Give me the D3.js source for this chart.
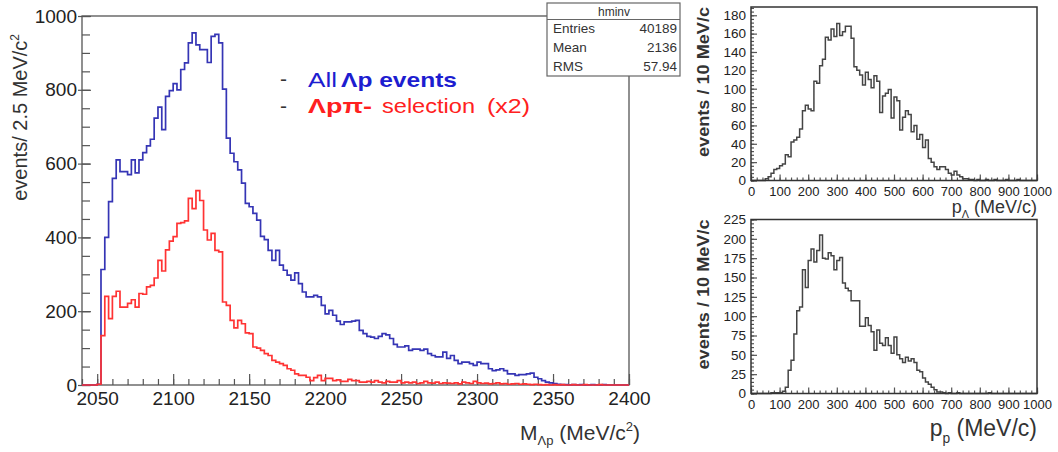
<!DOCTYPE html>
<html>
<head>
<meta charset="utf-8">
<title>hminv</title>
<script src="https://d3js.org/d3.v7.min.js"></script>
<style>
  body { margin: 0; background: #fff; }
  svg { display: block; font-family: "Liberation Sans", Arial, Helvetica, sans-serif; }
  .tick line { stroke: #555; stroke-width: 1.2; }
  .tick text { fill: #222; }
</style>
</head>
<body>
<div id="container"></div>
<script>

const width = 1058, height = 452;

// --- main plot: M(Lambda p), 2.5 MeV/c2 bins from 2040 to 2400
const massStart = 2040, massStep = 2.5;
const allEvents = [
  0,0,0,0,2,
  313,400,497,560,610, 578,578,570,610,575, 610,630,648,666,723,
  753,692,782,798,817, 800,855,873,927,954, 922,909,909,874,945,
  950,927,802,669,628, 605,583,547,492,483, 465,447,403,394,365,
  338,365,325,311,298, 284,304,275,252,239, 239,243,239,216,193,
  202,189,173,164,171, 171,173,175,148,139, 132,130,126,132,139,
  136,126,110,103,103, 106,94,97,97,94, 97,85,80,76,76,
  89,72,80,67,58, 62,62,58,53,62, 58,58,44,39,41,
  44,39,30,30,26, 28,28,30,32,21, 17,12,8,6,4,
  2,1,1,0,1, 0,1,0,0,1, 0,0,1,0,0,
  0,0,0,0
];
const selEvents = [
  0,0,0,0,2,
  134,240,180,240,254, 211,211,221,231,211, 248,246,266,270,290,
  338,309,366,390,402, 438,440,445,506,478, 527,500,420,393,411,
  365,361,225,216,175, 155,175,166,141,139, 103,100,94,85,80,
  67,62,58,53,44, 40,30,26,26,21, 12,20,26,12,18,
  18,12,14,10,10, 15,12,12,8,8, 10,8,12,8,6,
  10,8,8,12,6, 8,6,8,4,6, 10,6,5,8,4,
  6,5,4,6,3, 8,6,4,10,6, 4,5,3,4,6,
  3,4,2,3,4, 2,3,2,1,2, 1,0,1,0,1,
  0,1,0,0,1, 0,0,1,0,0, 0,1,0,0,0,
  0,0,0,0
];
const massTicks = [2050, 2100, 2150, 2200, 2250, 2300, 2350, 2400];
const countTicks = [0, 200, 400, 600, 800, 1000];
const statRows = [["Entries", "40189"], ["Mean", "2136"], ["RMS", "57.94"]];

// --- right plots: momenta, 10 MeV/c bins from 0 to 1000
const momStart = 0, momStep = 10;
const pLambda = [
  0,0,0,0,0, 2,4,8,12,13, 16,18,28,26,42, 44,47,56,76,82,
  78,76,108,106,125, 132,156,153,165,157, 171,158,162,168,168, 155,124,120,115,104,
  118,110,101,114,108, 74,92,95,99,68, 91,87,55,69,76, 72,53,60,45,50,
  36,44,24,20,15, 12,15,15,12,8, 6,10,6,4,2, 2,1,1,0,1,
  0,0,1,0,0, 1,0,0,0,1, 0,0,0,1,0, 0,0,0,0,0
];
const pProton = [
  0,0,0,0,0, 0,0,1,1,1, 1,3,8,30,43, 77,107,112,160,137,
  172,187,170,185,205, 175,174,182,178,160, 172,176,143,136,133, 120,120,120,87,87,
  98,88,80,56,82, 65,62,72,62,52, 73,50,45,40,47, 42,45,40,30,28,
  20,15,12,8,5, 2,2,1,0,1, 0,0,1,0,0, 0,0,0,0,0,
  0,0,0,1,0, 0,0,0,0,0, 0,0,0,0,0, 0,0,0,0,0
];
const momTicks = [0, 100, 200, 300, 400, 500, 600, 700, 800, 900, 1000];
const lambdaTicks = [0, 20, 40, 60, 80, 100, 120, 140, 160, 180];
const protonTicks = [0, 25, 50, 75, 100, 125, 150, 175, 200, 225];

const svg = d3.select("#container").append("svg")
  .attr("width", width)
  .attr("height", height);

const plain = d3.format("d");

function stepPath(values, start, step, x, y) {
  const pts = values.map((v, i) => [start + i * step, v]);
  pts.push([start + values.length * step, values[values.length - 1]]);
  return d3.line()
    .x(d => x(d[0]))
    .y(d => y(d[1]))
    .curve(d3.curveStepAfter)(pts);
}

function cleanAxis(g) {
  g.select(".domain").remove();
}

// ================= main plot =================
const mx = d3.scaleLinear().domain([2040, 2400]).range([82, 629]);
const my = d3.scaleLinear().domain([0, 1000]).range([385, 16]);

const main = svg.append("g");

main.append("rect")
  .attr("x", mx.range()[0]).attr("y", my.range()[1])
  .attr("width", mx.range()[1] - mx.range()[0])
  .attr("height", my.range()[0] - my.range()[1])
  .attr("fill", "none").attr("stroke", "#555").attr("stroke-width", 1.3);

// minor ticks
main.append("g")
  .attr("transform", `translate(0, ${my(0)})`)
  .call(d3.axisBottom(mx).tickValues(d3.range(2040, 2401, 10)).tickSize(-6).tickFormat(""))
  .call(cleanAxis);
main.append("g")
  .attr("transform", `translate(${mx(2040)}, 0)`)
  .call(d3.axisLeft(my).tickValues(d3.range(0, 1001, 50)).tickSize(-8).tickFormat(""))
  .call(cleanAxis);

// major ticks + labels
main.append("g")
  .attr("transform", `translate(0, ${my(0)})`)
  .call(d3.axisBottom(mx).tickValues(massTicks).tickSize(-11).tickPadding(7).tickFormat(plain))
  .call(cleanAxis)
  .call(g => g.selectAll("text").style("font-size", "19px"));
main.append("g")
  .attr("transform", `translate(${mx(2040)}, 0)`)
  .call(d3.axisLeft(my).tickValues(countTicks).tickSize(-9).tickPadding(5).tickFormat(plain))
  .call(cleanAxis)
  .call(g => g.selectAll("text").style("font-size", "19px"))
  .call(g => g.selectAll("line").attr("x1", -4));

main.append("path")
  .attr("d", stepPath(allEvents, massStart, massStep, mx, my))
  .attr("fill", "none").attr("stroke", "#3535b5").attr("stroke-width", 1.7);
main.append("path")
  .attr("d", stepPath(selEvents, massStart, massStep, mx, my))
  .attr("fill", "none").attr("stroke", "#ff3333").attr("stroke-width", 1.7);

// axis titles
const xt = main.append("text")
  .attr("x", 640).attr("y", 440)
  .attr("text-anchor", "end")
  .style("font-size", "21px").attr("fill", "#333");
xt.append("tspan").text("M");
xt.append("tspan").text("Λp").style("font-size", "13px").attr("dy", 5);
xt.append("tspan").text(" (MeV/c").attr("dy", -5);
xt.append("tspan").text("2").style("font-size", "13px").attr("dy", -9);
xt.append("tspan").text(")").attr("dy", 9);

const yt = main.append("text")
  .attr("transform", "translate(27, 34) rotate(-90)")
  .attr("text-anchor", "end")
  .style("font-size", "20px").attr("fill", "#333");
yt.append("tspan").text("events/ 2.5 MeV/c");
yt.append("tspan").text("2").style("font-size", "12px").attr("dy", -8);

// legend
const blue = "#1d1dd0", red = "#ff2020";
main.append("text").attr("x", 280).attr("y", 86).text("-")
  .style("font-size", "21px").attr("fill", "#333");
main.append("text").attr("x", 280).attr("y", 113).text("-")
  .style("font-size", "21px").attr("fill", "#333");
main.append("text").attr("x", 308).attr("y", 87)
  .attr("textLength", 29).attr("lengthAdjust", "spacingAndGlyphs")
  .style("font-size", "21px").attr("fill", blue).text("All");
main.append("text").attr("x", 341).attr("y", 87)
  .attr("textLength", 116).attr("lengthAdjust", "spacingAndGlyphs")
  .style("font-size", "21px").style("font-weight", "bold").attr("fill", blue).text("Λp events");
main.append("text").attr("x", 308).attr("y", 113)
  .attr("textLength", 64).attr("lengthAdjust", "spacingAndGlyphs")
  .style("font-size", "21px").style("font-weight", "bold").attr("fill", red).text("Λpπ-");
main.append("text").attr("x", 382).attr("y", 113)
  .attr("textLength", 93).attr("lengthAdjust", "spacingAndGlyphs")
  .style("font-size", "21px").attr("fill", red).text("selection");
main.append("text").attr("x", 487).attr("y", 113)
  .attr("textLength", 43).attr("lengthAdjust", "spacingAndGlyphs")
  .style("font-size", "21px").attr("fill", red).text("(x2)");

// stat box
const stat = main.append("g");
stat.append("rect")
  .attr("x", 547).attr("y", 3).attr("width", 133).attr("height", 73)
  .attr("fill", "#fff").attr("stroke", "#666").attr("stroke-width", 1.2);
stat.append("line")
  .attr("x1", 547).attr("x2", 680).attr("y1", 19.5).attr("y2", 19.5)
  .attr("stroke", "#666").attr("stroke-width", 1.2);
stat.append("text").attr("x", 614).attr("y", 16).attr("text-anchor", "middle")
  .text("hminv").style("font-size", "12px").attr("fill", "#333");
stat.selectAll("text.row").data(statRows).enter().append("text")
  .attr("class", "row")
  .attr("x", 553).attr("y", (d, i) => 33 + i * 18.8)
  .text(d => d[0]).style("font-size", "13.5px").attr("fill", "#333");
stat.selectAll("text.val").data(statRows).enter().append("text")
  .attr("class", "val")
  .attr("x", 677).attr("y", (d, i) => 33 + i * 18.8)
  .attr("text-anchor", "end")
  .text(d => d[1]).style("font-size", "13.5px").attr("fill", "#333");

// ================= right plots =================
function momPanel(values, yMax, yTicks, yMinorStep, top, bottom, sub, titleSize, titleY) {
  const x = d3.scaleLinear().domain([0, 1000]).range([751, 1037]);
  const y = d3.scaleLinear().domain([0, yMax]).range([bottom, top]);
  const g = svg.append("g");

  g.append("g")
    .attr("transform", `translate(0, ${bottom})`)
    .call(d3.axisBottom(x).tickValues(d3.range(0, 1001, 20)).tickSize(-3).tickFormat(""))
    .call(cleanAxis);
  g.append("g")
    .attr("transform", `translate(0, ${bottom})`)
    .call(d3.axisBottom(x).tickValues(momTicks).tickSize(-6).tickPadding(6).tickFormat(plain))
    .call(cleanAxis)
    .call(a => a.selectAll("text").style("font-size", "13px"));
  g.append("g")
    .attr("transform", `translate(751, 0)`)
    .call(d3.axisLeft(y).tickValues(d3.range(0, yMax + 0.1, yMinorStep)).tickSize(-3).tickFormat(""))
    .call(cleanAxis);
  g.append("g")
    .attr("transform", `translate(751, 0)`)
    .call(d3.axisLeft(y).tickValues(yTicks).tickSize(-6).tickPadding(5).tickFormat(plain))
    .call(cleanAxis)
    .call(a => a.selectAll("text").style("font-size", "13.5px"));

  g.append("path")
    .attr("d", stepPath(values, momStart, momStep, x, y))
    .attr("fill", "none").attr("stroke", "#444").attr("stroke-width", 1.5);

  g.append("rect")
    .attr("x", 751).attr("y", top).attr("width", 286).attr("height", bottom - top)
    .attr("fill", "none").attr("stroke", "#333").attr("stroke-width", 1.5);

  g.append("text")
    .attr("transform", `translate(709, ${top}) rotate(-90)`)
    .attr("text-anchor", "end")
    .attr("textLength", 150).attr("lengthAdjust", "spacingAndGlyphs")
    .style("font-size", "17px").style("font-weight", "bold").attr("fill", "#333")
    .text("events / 10 MeV/c");

  const t = g.append("text")
    .attr("x", 1037).attr("y", titleY)
    .attr("text-anchor", "end")
    .style("font-size", titleSize + "px").attr("fill", "#333");
  t.append("tspan").text("p");
  t.append("tspan").text(sub).style("font-size", (titleSize * 0.6) + "px").attr("dy", titleSize * 0.3);
  t.append("tspan").text(" (MeV/c)").attr("dy", -titleSize * 0.3);
}

momPanel(pLambda, 189, lambdaTicks, 4, 7, 180.5, "Λ", 18, 213);
momPanel(pProton, 225, protonTicks, 5, 219.5, 393.5, "p", 23, 436);

</script>
</body>
</html>
